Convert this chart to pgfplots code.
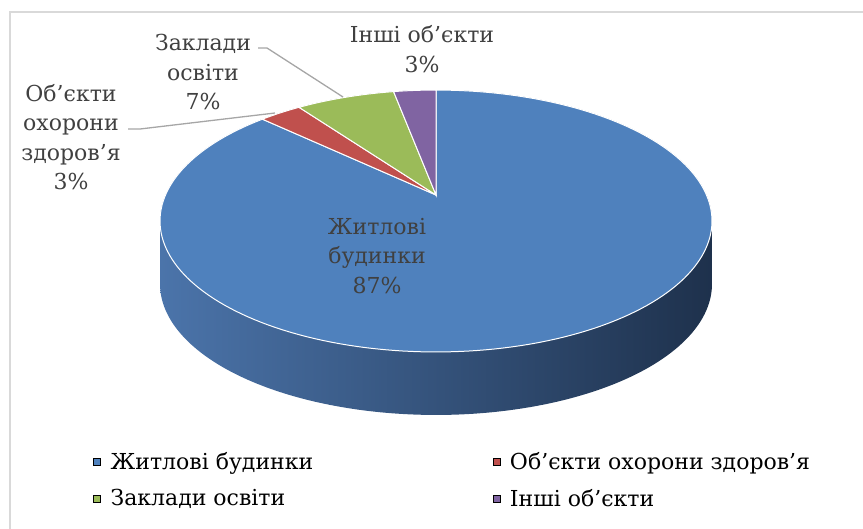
\documentclass[border=0pt]{standalone}
\usepackage{pgfplots}
\pgfplotsset{compat=1.18}
\usepackage{pgfplotstable}
\usepackage{fontspec}
\setmainfont{DejaVu Serif}
\definecolor{cblue}{HTML}{4F81BD}
\definecolor{cred}{HTML}{C0504D}
\definecolor{cgreen}{HTML}{9BBB59}
\definecolor{cpurple}{HTML}{8064A2}
\definecolor{lbl}{HTML}{404040}
\definecolor{sideL}{HTML}{4B74AA}
\definecolor{sideM}{HTML}{31507C}
\definecolor{sideR}{HTML}{1E314C}
\definecolor{frame}{HTML}{D9D9D9}
\definecolor{leader}{HTML}{A6A6A6}

\pgfplotstableread{
idx value
0 87
1 3
2 7
3 3
}\piedata
\pgfplotstablegetelem{0}{value}\of\piedata \let\vA\pgfplotsretval
\pgfplotstablegetelem{1}{value}\of\piedata \let\vB\pgfplotsretval
\pgfplotstablegetelem{2}{value}\of\piedata \let\vC\pgfplotsretval
\pgfplotstablegetelem{3}{value}\of\piedata \let\vD\pgfplotsretval
\pgfmathsetmacro\aZ{90}
\pgfmathsetmacro\aA{\aZ-3.6*\vA}
\pgfmathsetmacro\aB{\aA-3.6*\vB}
\pgfmathsetmacro\aC{\aB-3.6*\vC}
\pgfmathsetmacro\aD{\aC-3.6*\vD}

\begin{document}%
\begin{tikzpicture}
\begin{axis}[
  scale only axis, width=863pt, height=528pt,
  xmin=0, xmax=863, ymin=0, ymax=528, y dir=reverse,
  hide axis, clip=false,
  declare function={
    px(\t)=436+270.5*cos(\t)/(1+0.1985*sin(\t));
    py(\t)=195-125.8*sin(\t)/(1+0.1985*sin(\t));
  },
  legend columns=2,
  legend image code/.code={\fill[#1] (0pt,-3.5pt) rectangle (7pt,3.5pt);},
  legend style={at={(axis cs:93,480)}, anchor=west, draw=none, fill=none,
    font=\fontsize{22}{26}\selectfont, text=black, inner sep=0pt,
    row sep=14pt,
    /tikz/every odd column/.append style={column sep=8pt}},
  legend cell align=left,
]
\coordinate (BL) at (axis cs:0,528);
\coordinate (TR) at (axis cs:863,0);
% frame
\draw[frame, line width=2.5pt] (axis cs:10,529) -- (axis cs:10,12) -- (axis cs:864,12);
% side of the pie
\addplot[draw=none, left color=sideL, middle color=sideM, right color=sideR,
  domain=191.45:551.45, samples=361, forget plot]
  ({px(x)}, {py(x) + (x<348.6 ? 63 : 0)});
% top face slices
\addplot[fill=cblue, draw=white, line width=1pt, domain=\aA:\aZ, samples=200, forget plot]
  ({px(x)}, {py(x)}) -- (axis cs:436,195) -- cycle;
\addplot[fill=cred, draw=white, line width=1pt, domain=\aB:\aA, samples=20, forget plot]
  ({px(x)}, {py(x)}) -- (axis cs:436,195) -- cycle;
\addplot[fill=cgreen, draw=white, line width=1pt, domain=\aC:\aB, samples=30, forget plot]
  ({px(x)}, {py(x)}) -- (axis cs:436,195) -- cycle;
\addplot[fill=cpurple, draw=white, line width=1pt, domain=\aD:\aC, samples=20, forget plot]
  ({px(x)}, {py(x)}) -- (axis cs:436,195) -- cycle;
% leader lines
\addplot[leader, line width=1.3pt, forget plot] coordinates {(258,48) (267,48) (343,97)};
\addplot[leader, line width=1.3pt, forget plot] coordinates {(128,129) (140,129) (275,113)};
% labels
\begin{scope}[every node/.style={align=center, text=lbl, inner sep=0pt,
   font=\fontsize{22}{29.5}\selectfont}]
\node at (axis cs:422,49) {Інші об’єкти\\3\%};
\node at (axis cs:203,72) {Заклади\\освіти\\7\%};
\node at (axis cs:71,137) {Об’єкти\\охорони\\здоров’я\\3\%};
\node at (axis cs:377,256) {Житлові\\будинки\\87\%};
\end{scope}
% legend
\addlegendimage{fill=cblue}
\addlegendentry{\makebox[380pt][l]{Житлові будинки}}
\addlegendimage{fill=cred}
\addlegendentry{Об’єкти охорони здоров’я}
\addlegendimage{fill=cgreen}
\addlegendentry{\makebox[380pt][l]{Заклади освіти}}
\addlegendimage{fill=cpurple}
\addlegendentry{Інші об’єкти}
\end{axis}
\pgfresetboundingbox
\path (BL) rectangle (TR);
\end{tikzpicture}%
\end{document}
